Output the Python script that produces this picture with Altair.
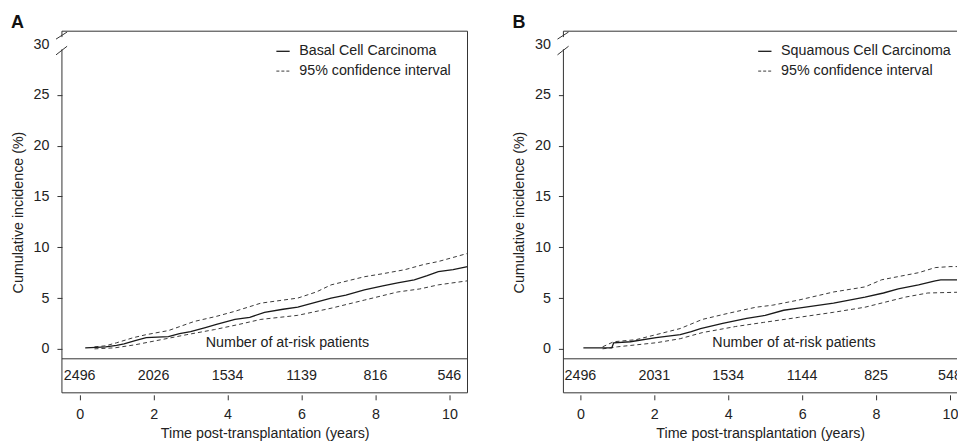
import altair as alt
import pandas as pd

FONT = "Liberation Sans"
TXT = "#222222"
FS = 14.3

# ---------------- data ----------------
# Panel A: Basal Cell Carcinoma
a_time = [0.15, 0.45, 0.7, 1.0, 1.2, 1.5, 1.8, 2.4, 2.7, 3.0, 3.4, 3.7, 4.2, 4.6, 5.0, 5.5, 5.9,
          6.3, 6.8, 7.2, 7.7, 8.2, 8.6, 9.05, 9.4, 9.7, 10.1, 10.49]
a_est = [0.1, 0.15, 0.2, 0.35, 0.5, 0.8, 1.1, 1.2, 1.5, 1.7, 2.1, 2.4, 2.9, 3.1, 3.6, 3.9, 4.1,
         4.5, 5.0, 5.3, 5.8, 6.2, 6.5, 6.8, 7.2, 7.6, 7.8, 8.1]
a_hi_time = [0.4, 0.7, 1.0, 1.45, 1.8, 2.4, 3.1, 3.7, 4.2, 4.9, 5.9, 6.4, 6.8, 7.7, 8.2, 8.8,
             9.3, 9.7, 10.1, 10.49]
a_hi = [0.2, 0.3, 0.6, 1.1, 1.4, 1.8, 2.7, 3.2, 3.7, 4.5, 5.0, 5.6, 6.3, 7.1, 7.4, 7.8,
        8.3, 8.6, 9.0, 9.4]
a_lo_time = [0.4, 0.95, 1.5, 2.2, 2.9, 3.65, 4.3, 4.9, 5.4, 5.9, 6.8, 7.7, 8.6, 9.2, 9.7, 10.49]
a_lo = [0.0, 0.1, 0.4, 0.9, 1.4, 1.9, 2.4, 2.9, 3.1, 3.3, 4.0, 4.8, 5.6, 5.9, 6.3, 6.7]
a_risk = [2496, 2026, 1534, 1139, 816, 546]

# Panel B: Squamous Cell Carcinoma
b_time = [0.08, 0.85, 0.9, 1.35, 2.05, 2.7, 3.0, 3.25, 3.85, 4.5, 5.0, 5.5, 5.9, 6.85, 7.7,
          8.2, 8.6, 9.15, 9.6, 9.75, 10.49]
b_est = [0.1, 0.1, 0.6, 0.7, 1.1, 1.4, 1.7, 2.0, 2.5, 3.0, 3.3, 3.8, 4.0, 4.5, 5.1,
         5.5, 5.9, 6.3, 6.7, 6.8, 6.8]
b_hi_time = [0.6, 0.9, 1.5, 2.05, 2.7, 3.3, 4.0, 4.75, 5.2, 5.9, 6.85, 7.7, 8.15, 9.15, 9.6,
             10.0, 10.49]
b_hi = [0.2, 0.7, 0.9, 1.4, 2.0, 2.9, 3.5, 4.1, 4.3, 4.8, 5.6, 6.1, 6.8, 7.5, 8.0, 8.1, 8.1]
b_lo_time = [0.6, 1.0, 2.05, 2.7, 3.3, 4.2, 4.95, 5.9, 6.85, 7.7, 8.8, 9.4, 10.49]
b_lo = [0.0, 0.2, 0.6, 1.0, 1.6, 2.2, 2.6, 3.1, 3.6, 4.1, 5.1, 5.5, 5.6]
b_risk = [2496, 2031, 1534, 1144, 825, 548]

risk_times = [0, 2, 4, 6, 8, 10]
x_ticks = [0, 2, 4, 6, 8, 10]
y_ticks = [0, 5, 10, 15, 20, 25, 30]

Y_DOMAIN = [-4.33, 31.28]
RISK_LINE = -0.98
RISK_Y = -2.66
BREAK_Y = 30.1


def panel(letter, label, et, ev, ht, hv, lt, lv, risk, note_x, leg_x, x_domain, width, right_border):
    xs = alt.Scale(domain=x_domain, nice=False, zero=False)
    ys = alt.Scale(domain=Y_DOMAIN, nice=False, zero=False)
    xaxis = alt.Axis(values=x_ticks, title="Time post-transplantation (years)", domain=False,
                     grid=False, offset=2, tickSize=5, labelPadding=8, titlePadding=4,
                     labelFlush=False)
    yaxis = alt.Axis(values=y_ticks, title="Cumulative incidence (%)", domain=False, grid=False,
                     tickSize=5, labelPadding=8, titlePadding=8, labelFlush=False,
                     tickColor={"condition": {"test": "datum.value == 30", "value": "transparent"},
                                "value": "#333333"})

    def X(f):
        return alt.X(f, type="quantitative", scale=xs, axis=xaxis)

    def Y(f):
        return alt.Y(f, type="quantitative", scale=ys, axis=yaxis)

    est_df = pd.DataFrame({"t": et, "v": ev})
    ci_df = pd.concat([
        pd.DataFrame({"t": ht, "v": hv, "bound": "upper"}),
        pd.DataFrame({"t": lt, "v": lv, "bound": "lower"}),
    ])
    risk_df = pd.DataFrame({"t": risk_times, "n": [str(n) for n in risk]})

    # frame (box around plot and at-risk table)
    hframe = alt.Chart(pd.DataFrame({"y": [Y_DOMAIN[0], RISK_LINE, Y_DOMAIN[1]]})).mark_rule(
        color="#333333", strokeWidth=1).encode(y=Y("y"))
    vx = [x_domain[0], x_domain[1]] if right_border else [x_domain[0]]
    vframe = alt.Chart(pd.DataFrame({"x": vx})).mark_rule(
        color="#333333", strokeWidth=1).encode(x=X("x"))

    ci = alt.Chart(ci_df).mark_line(color="#3a3a3a", strokeDash=[4, 3], strokeWidth=1, clip=True).encode(
        x=X("t"), y=Y("v"), detail="bound:N")
    main = alt.Chart(est_df).mark_line(color="#1a1a1a", strokeWidth=1.3, clip=True).encode(
        x=X("t"), y=Y("v"))

    risk_txt = alt.Chart(risk_df).mark_text(font=FONT, fontSize=FS, color=TXT, baseline="middle",
                                            clip=True).encode(
        x=X("t"), y=Y("y"), text="n:N").transform_calculate(y=str(RISK_Y))
    note = alt.Chart(pd.DataFrame({"t": [note_x], "y": [0.55], "s": ["Number of at-risk patients"]})).mark_text(
        font=FONT, fontSize=FS, color=TXT, baseline="middle").encode(x=X("t"), y=Y("y"), text="s:N")

    # legend (drawn inside the plot)
    leg_line = pd.DataFrame({"x1": [leg_x], "x2": [leg_x + 0.36], "y": [29.3]})
    leg_dash = pd.DataFrame({"x1": [leg_x], "x2": [leg_x + 0.36], "y": [27.35]})
    leg_txt = pd.DataFrame({"t": [leg_x + 0.62, leg_x + 0.62], "y": [29.3, 27.35],
                            "s": [label, "95% confidence interval"]})
    l1 = alt.Chart(leg_line).mark_rule(color="#1a1a1a", strokeWidth=1.3).encode(
        x=X("x1"), x2="x2", y=Y("y"))
    l2 = alt.Chart(leg_dash).mark_rule(color="#3a3a3a", strokeWidth=1, strokeDash=[3, 2]).encode(
        x=X("x1"), x2="x2", y=Y("y"))
    l3 = alt.Chart(leg_txt).mark_text(font=FONT, fontSize=FS, color=TXT, align="left",
                                      baseline="middle").encode(x=X("t"), y=Y("y"), text="s:N")

    # axis break on the left border
    gap = alt.Chart(pd.DataFrame({"x": [x_domain[0]], "y1": [BREAK_Y - 0.6], "y2": [BREAK_Y + 0.6]})).mark_rule(
        color="white", strokeWidth=4).encode(x=X("x"), y=Y("y1"), y2="y2")
    slash_df = pd.DataFrame({
        "x1": [x_domain[0] - 0.16, x_domain[0] - 0.16],
        "x2": [x_domain[0] + 0.14, x_domain[0] + 0.14],
        "y1": [BREAK_Y + 0.4, BREAK_Y - 1.15],
        "y2": [BREAK_Y + 1.1, BREAK_Y - 0.3],
    })
    slashes = alt.Chart(slash_df).mark_rule(color="#333333", strokeWidth=1).encode(
        x=X("x1"), x2="x2", y=Y("y1"), y2="y2")

    return alt.layer(hframe, vframe, ci, main, risk_txt, note, l1, l2, l3, gap, slashes).properties(
        width=width, height=362,
        title=alt.TitleParams(letter, anchor="start", frame="group", dx=-51, dy=3, offset=2,
                              fontSize=18, fontWeight="bold", font=FONT, color="#111111"),
    )


pa = panel("A", "Basal Cell Carcinoma", a_time, a_est, a_hi_time, a_hi, a_lo_time, a_lo,
           a_risk, 5.62, 5.32, [-0.48, 10.49], 406, True)
pb = panel("B", "Squamous Cell Carcinoma", b_time, b_est, b_hi_time, b_hi, b_lo_time, b_lo,
           b_risk, 5.78, 4.81, [-0.46, 10.19], 394, False)

chart = alt.hconcat(pa, pb, spacing=44).properties(
    padding={"left": 11, "top": 13, "right": 0, "bottom": 1},
    background="white",
).configure_view(stroke=None).configure_axis(
    labelFont=FONT, titleFont=FONT, labelFontSize=FS, titleFontSize=FS,
    labelColor=TXT, titleColor=TXT, titleFontWeight="normal", tickColor="#333333",
)

chart.save("out.html", embed_options={"renderer": "svg", "actions": False})
